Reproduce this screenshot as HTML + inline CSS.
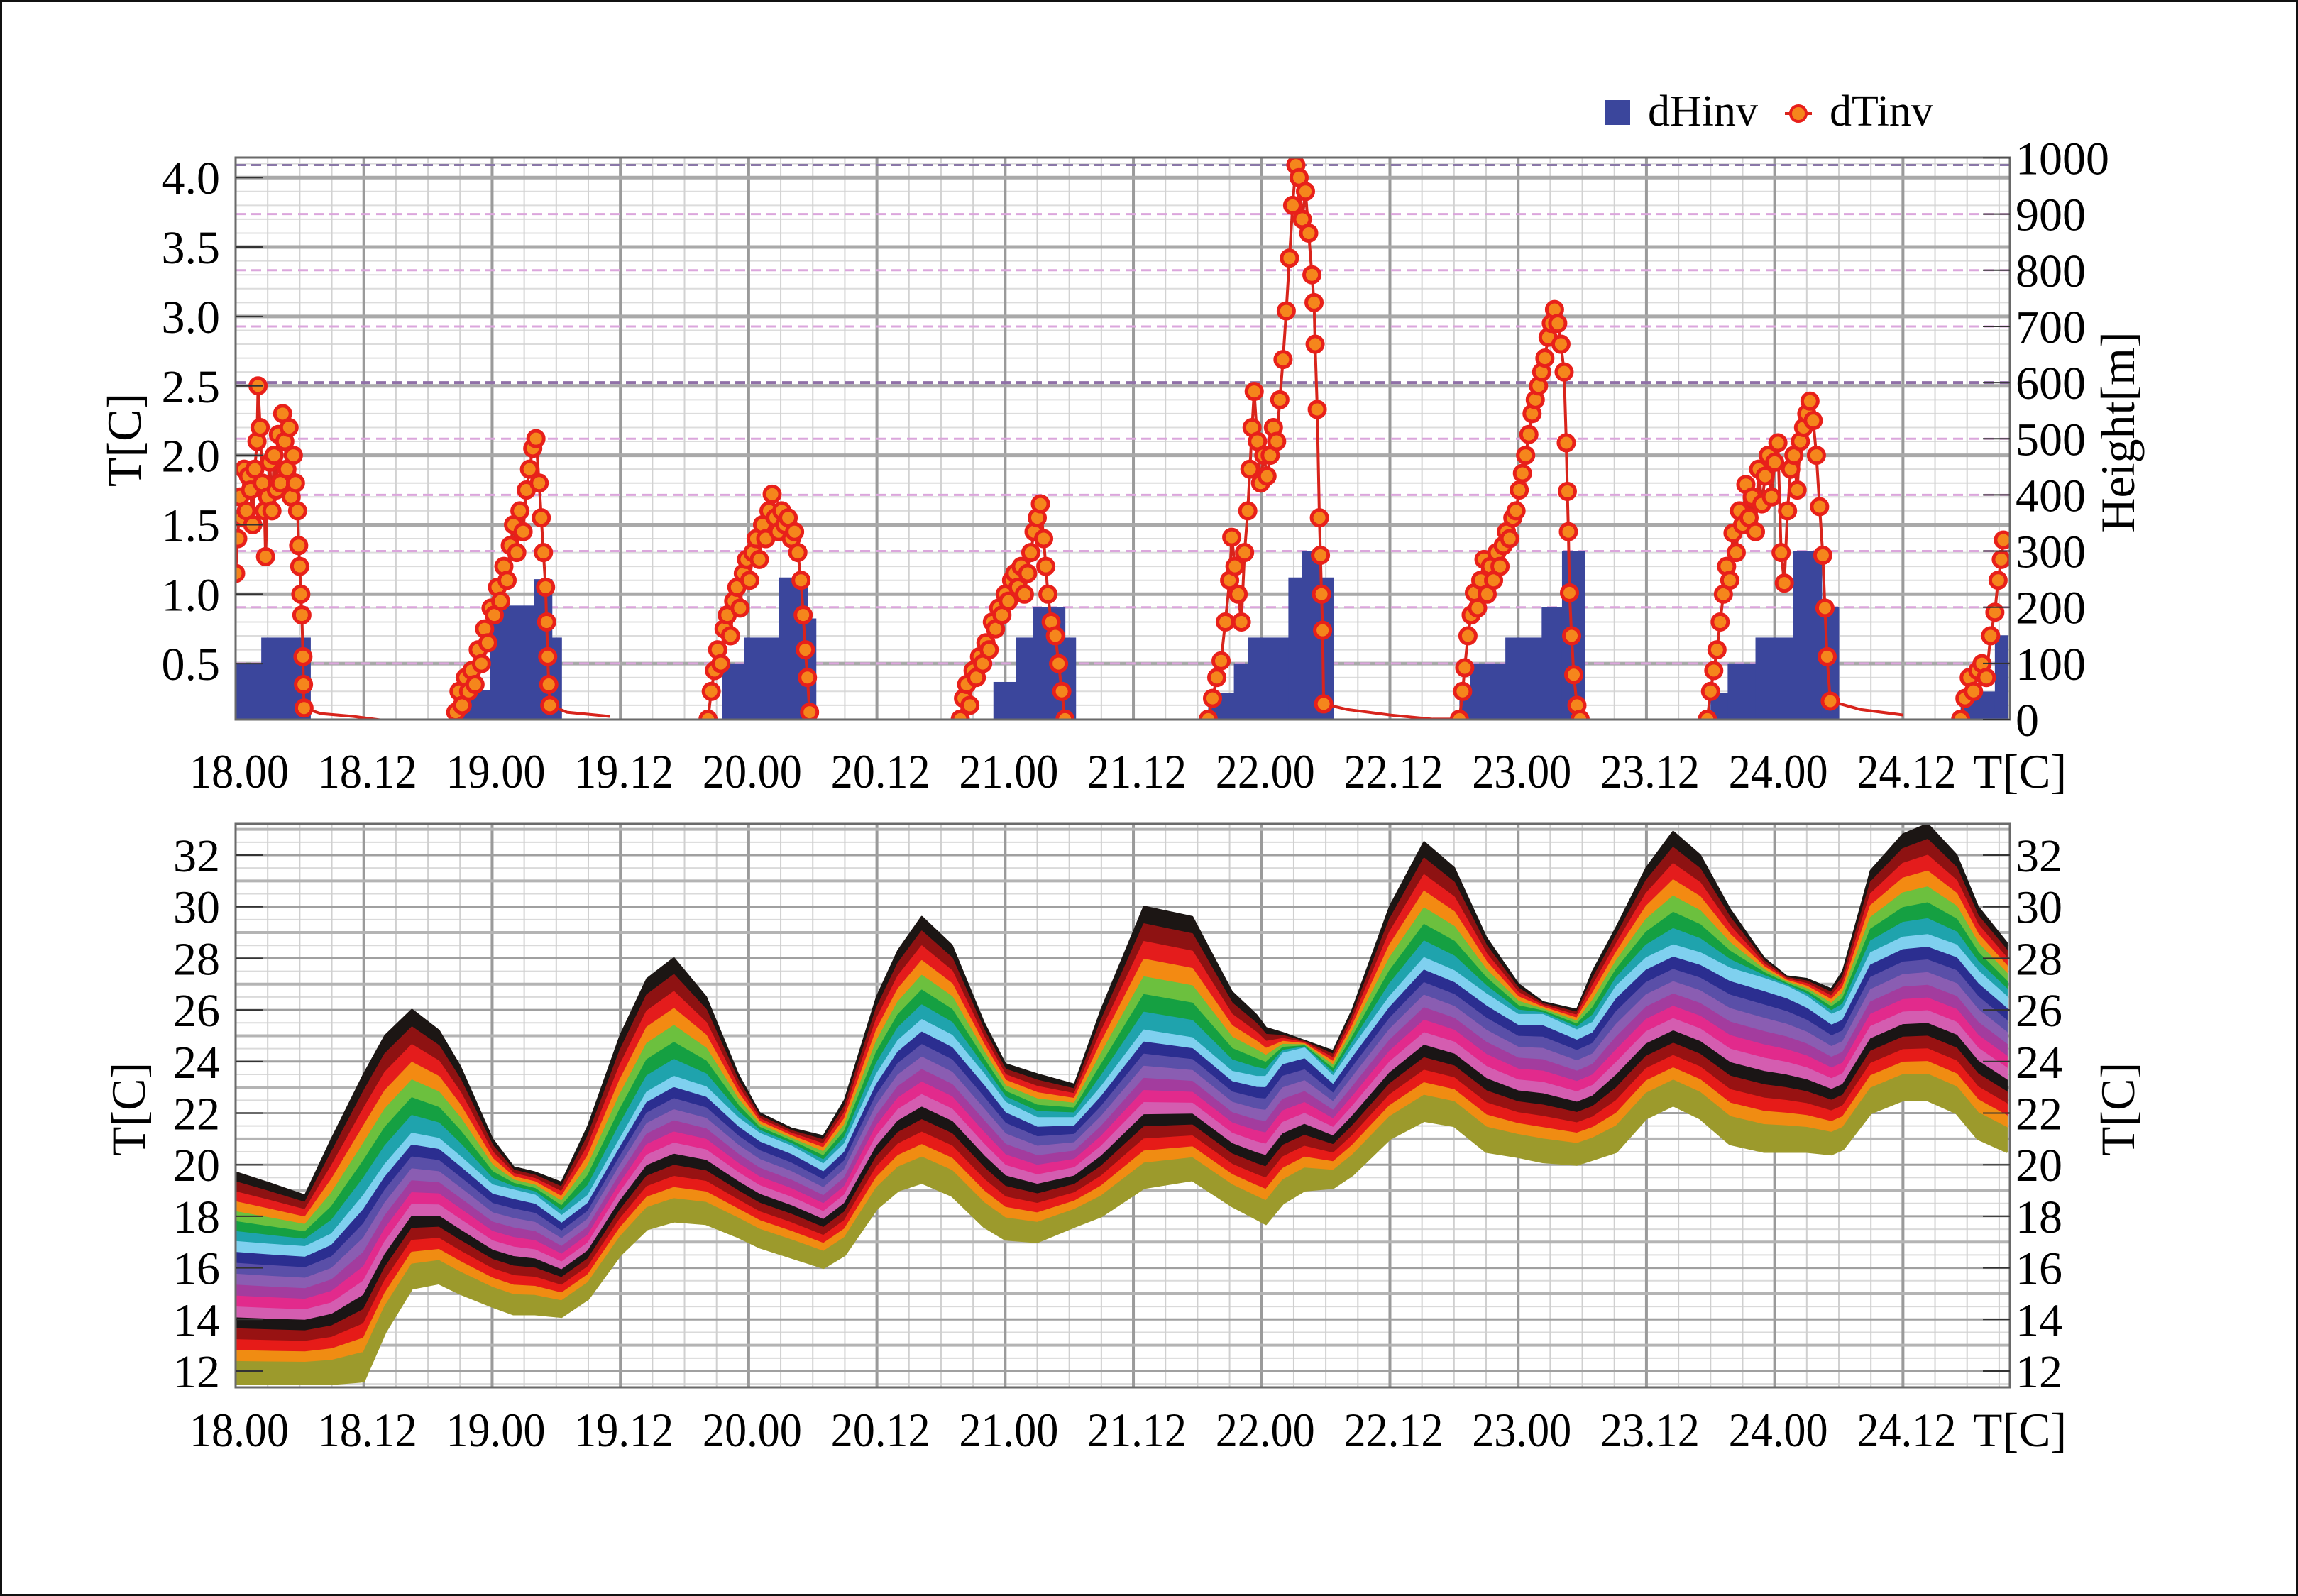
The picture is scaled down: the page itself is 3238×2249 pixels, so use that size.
<!DOCTYPE html>
<html><head><meta charset="utf-8"><title>Inversion and temperature chart</title>
<style>
html,body{margin:0;padding:0;background:#fff;}
svg{display:block;}
text{font-family:"Liberation Serif","DejaVu Serif",serif;fill:#000;}
</style></head>
<body>
<svg id="fig" xmlns="http://www.w3.org/2000/svg" width="3238" height="2249" viewBox="0 0 3238 2249">
<rect x="1.5" y="1.5" width="3235" height="2246" fill="#fff" stroke="#111" stroke-width="3"/>
</svg>
<script>
// ---------- top chart data ----------
const barStart  = [0,2.4, 20.5,23.8,27.9,29.6, 45.5,47.6,50.8,53.5, 70.9,73,74.6,77.6, 91,93.4,94.7,98.5,99.8,101.4, 114.5,115.5,118.8,122.2,124.1, 138,139.6,142.2,145.7,148.4, 161.4,164.6];
const barEnd    = [2.4,7, 23.8,27.9,29.6,30.5, 47.6,50.8,53.5,54.3, 73,74.6,77.6,78.6, 93.4,94.7,98.5,99.8,101.4,102.7, 115.5,118.8,122.2,124.1,126.2, 139.6,142.2,145.7,148.4,150, 164.6,165.8];
const barHeight = [100,146, 52,203,250,146, 100,146,253,180, 67,146,200,146, 47,100,146,253,300,253, 60,100,146,200,300, 47,100,146,300,200, 50,150];

const dtHours = [0,0.2,0.4,0.6,0.8,1.0,1.2,1.4,1.6,1.8,2.0,2.1,2.3,2.5,2.7,2.8,3.0,3.2,3.4,3.6,3.8,4.0,4.2,4.4,4.6,4.8,5.0,5.2,5.4,5.6,5.8,5.9,6.0,6.1,6.2,6.3,6.35,6.4,
20.6,20.9,21.2,21.5,21.8,22.1,22.4,22.7,23.0,23.3,23.6,23.9,24.2,24.5,24.8,25.1,25.4,25.7,26.0,26.3,26.6,26.9,27.2,27.5,27.8,28.1,28.4,28.6,28.8,29.0,29.1,29.2,29.3,29.4,
44.2,44.5,44.8,45.1,45.4,45.7,46.0,46.3,46.6,46.9,47.2,47.5,47.8,48.1,48.4,48.7,49.0,49.3,49.6,49.9,50.2,50.5,50.8,51.1,51.4,51.7,52.0,52.3,52.6,52.9,53.1,53.3,53.5,53.7,
67.8,68.1,68.4,68.7,69.0,69.3,69.6,69.9,70.2,70.5,70.8,71.1,71.4,71.7,72.0,72.3,72.6,72.9,73.2,73.5,73.8,74.1,74.4,74.7,75.0,75.3,75.6,75.8,76.0,76.3,76.7,77.0,77.3,77.6,
91.0,91.4,91.8,92.2,92.6,93.0,93.2,93.5,93.8,94.1,94.4,94.7,94.9,95.1,95.3,95.6,95.9,96.2,96.5,96.8,97.1,97.4,97.7,98.0,98.3,98.6,98.9,99.2,99.5,99.8,100.1,100.4,100.7,100.9,101.0,101.2,101.4,101.5,101.6,101.7,101.8,
114.5,114.8,115.0,115.3,115.6,115.9,116.2,116.5,116.8,117.1,117.4,117.7,118.0,118.3,118.6,118.9,119.2,119.5,119.8,120.1,120.4,120.7,121.0,121.3,121.6,121.9,122.2,122.5,122.8,123.1,123.4,123.7,124.0,124.3,124.5,124.6,124.7,124.8,125.0,125.2,125.5,125.8,
137.7,138.0,138.3,138.6,138.9,139.2,139.5,139.8,140.1,140.4,140.7,141.0,141.3,141.6,141.9,142.2,142.5,142.8,143.1,143.4,143.7,144.0,144.3,144.6,144.9,145.2,145.5,145.8,146.1,146.4,146.7,147.0,147.3,147.6,147.9,148.2,148.5,148.7,148.9,149.2,
161.4,161.8,162.2,162.6,163.0,163.4,163.8,164.2,164.6,164.9,165.2,165.4];
const dtValues = [1.15,1.4,1.7,1.55,1.9,1.6,1.85,1.75,1.5,1.9,2.1,2.5,2.2,1.8,1.6,1.27,1.7,1.95,1.6,2.0,1.75,2.15,1.8,2.3,2.1,1.9,2.2,1.7,2.0,1.8,1.6,1.35,1.2,1.0,0.85,0.55,0.35,0.18,
0.15,0.3,0.2,0.4,0.3,0.45,0.35,0.6,0.5,0.75,0.65,0.9,0.85,1.05,0.95,1.2,1.1,1.35,1.5,1.3,1.6,1.45,1.75,1.9,2.05,2.12,1.8,1.55,1.3,1.05,0.8,0.55,0.35,0.2,
0.1,0.3,0.45,0.6,0.5,0.75,0.85,0.7,0.95,1.05,0.9,1.15,1.25,1.1,1.3,1.4,1.25,1.5,1.4,1.6,1.72,1.55,1.45,1.6,1.5,1.55,1.4,1.45,1.3,1.1,0.85,0.6,0.4,0.15,
0.1,0.25,0.35,0.2,0.45,0.4,0.55,0.5,0.65,0.6,0.8,0.75,0.9,0.85,1.0,0.95,1.1,1.15,1.05,1.2,1.0,1.15,1.3,1.45,1.55,1.65,1.4,1.2,1.0,0.8,0.7,0.5,0.3,0.1,
0.1,0.25,0.4,0.52,0.8,1.1,1.41,1.2,1.0,0.8,1.3,1.6,1.9,2.2,2.46,2.1,1.8,2.0,1.85,2.0,2.2,2.1,2.4,2.69,3.04,3.42,3.8,4.09,4.0,3.7,3.9,3.6,3.3,3.1,2.8,2.33,1.55,1.28,1.0,0.74,0.21,
0.1,0.3,0.47,0.7,0.85,1.01,0.9,1.1,1.25,1.0,1.2,1.1,1.3,1.2,1.35,1.45,1.4,1.55,1.6,1.75,1.87,2.0,2.15,2.3,2.4,2.5,2.6,2.7,2.85,2.95,3.05,2.95,2.8,2.6,2.09,1.74,1.45,1.01,0.7,0.42,0.2,0.1,
0.1,0.3,0.45,0.6,0.8,1.0,1.2,1.1,1.44,1.3,1.6,1.5,1.79,1.55,1.7,1.45,1.9,1.65,1.85,2.0,1.7,1.95,2.09,1.3,1.08,1.6,1.9,2.0,1.75,2.1,2.2,2.3,2.39,2.25,2.0,1.63,1.28,0.9,0.55,0.23,
0.1,0.25,0.4,0.3,0.45,0.5,0.4,0.7,0.87,1.1,1.25,1.39];
const trailHours  = [6.4,8,11,13,15, 29.4,31,35,40, 61,67.8, 101.8,104,108,112,114.5, 149.2,152,156,160.6];
const trailValues = [0.18,0.14,0.12,0.1,0.08, 0.2,0.15,0.12,0.1, 0.1,0.1, 0.21,0.17,0.13,0.1,0.09, 0.23,0.17,0.13,0.1];
const topYTicks = [0.5,1.0,1.5,2.0,2.5,3.0,3.5,4.0];
const heightTicks = [0,100,200,300,400,500,600,700,800,900,1000];
const xTickLabels = ["18.00","18.12","19.00","19.12","20.00","20.12","21.00","21.12","22.00","22.12","23.00","23.12","24.00","24.12"];

// ---------- bottom chart data ----------
const bHours = [0,3,6.5,9,12,14,16.5,19,21,24,26,28,30.5,33,36,38.5,41,44,47,49,52,55,57,60,62,64.2,67,70,72,75,78.5,81,85,89.5,93.2,95.5,96.4,98,100,102.7,104.5,108,111.2,114,117,120,122.3,125.5,127,129.2,132,134.5,137,139.8,143,145.1,147,149.3,150.4,153,156,158.3,161,163,165.7];
const bTop = [19.7,19.3,18.8,21.0,23.5,25.0,26.0,25.2,23.8,21.0,19.9,19.7,19.3,21.5,25.0,27.2,28.0,26.5,23.5,22.0,21.4,21.1,22.5,26.5,28.3,29.6,28.5,25.5,23.9,23.5,23.1,26.0,30.0,29.6,26.7,25.8,25.3,25.1,24.8,24.4,26.0,30.0,32.5,31.5,28.8,27.0,26.3,26.0,27.5,29.2,31.5,32.9,32.0,29.9,28.0,27.3,27.2,26.8,27.5,31.4,32.8,33.2,32.0,30.0,28.6];
const bMid = [17.0,16.9,16.8,17.3,18.8,20.0,21.2,21.0,20.3,19.2,19.0,18.8,18.0,18.8,21.0,22.8,23.4,23.0,21.8,21.2,20.7,20.0,20.8,23.5,24.8,25.6,25.0,23.5,22.4,21.8,21.8,23.0,25.2,24.9,23.6,23.4,23.4,24.3,24.5,23.4,24.5,26.5,28.0,27.5,26.6,25.8,25.8,25.2,25.5,26.9,28.0,28.5,28.2,27.6,27.2,26.9,26.5,25.8,26.0,28.2,28.8,28.9,28.5,27.5,26.5];
const bBot = [11.5,11.5,11.5,11.5,11.6,13.5,15.2,15.4,15.0,14.5,14.2,14.2,14.1,14.8,16.5,17.5,17.8,17.7,17.2,16.8,16.4,16.0,16.5,18.3,19.0,19.3,18.8,17.6,17.1,17.0,17.6,18.0,19.1,19.4,18.4,17.9,17.7,18.5,19.0,19.1,19.6,21.0,21.7,21.5,20.5,20.3,20.1,20.0,20.2,20.5,21.8,22.3,21.8,20.8,20.5,20.5,20.5,20.4,20.6,22.0,22.5,22.5,22.0,21.0,20.5];
const bTicks = [12,14,16,18,20,22,24,26,28,30,32];
const upperColors = ["#1c1614","#8e1212","#e41c1c","#f38a12","#6cc03e","#15a042","#1fa3ad"];
const lowerColors = ["#7fd0ef","#2b2e90","#5a4fa8","#8a5db2","#a33c9e","#e22a8c","#d45db0","#1a1515","#981212","#e61b18","#f08c12","#9c9a2c"];
const lowerWeights = [1,1,1,1,1,1,1,1,1,1,1,2];

// ---------- geometry ----------
const NS = "http://www.w3.org/2000/svg";
const svgRoot = document.getElementById("fig");
const PL = 332, PR = 2832;
const T1 = 222, B1 = 1014;
const T2 = 1161, B2 = 1955;
const xh = h => PL + h * 15.06;
const yT = t => 1033 - t * 195.7;
const yH = m => 1014 - m * 0.7915;
const yB = t => 1205 + (32 - t) * 36.35;

function mk(tag, attrs, parent) {
  const el = document.createElementNS(NS, tag);
  for (const k in attrs) el.setAttribute(k, attrs[k]);
  (parent || svgRoot).appendChild(el);
  return el;
}
function txt(parent, s, attrs) {
  const el = mk("text", attrs, parent);
  el.textContent = s;
  return el;
}

const defs = mk("defs", {});
const cp1 = mk("clipPath", {id: "clipTop"}, defs);
mk("rect", {x: PL, y: T1, width: PR - PL, height: B1 - T1}, cp1);
const cp2 = mk("clipPath", {id: "clipBot"}, defs);
mk("rect", {x: PL, y: T2, width: PR - PL, height: B2 - T2}, cp2);

// ================= TOP CHART =================
const topChart = mk("g", {});



const g1 = mk("g", {"clip-path": "url(#clipTop)"}, topChart);


for (let t = 0.1; t <= 4.2; t += 0.1) {
  mk("line", {x1: PL, x2: PR, y1: yT(t), y2: yT(t), stroke: "#dcdcdc", "stroke-width": 2}, g1);
}
for (let h = 3; h < 170; h += 3) {
  const major = (h % 12 === 0);
  mk("line", {x1: xh(h), x2: xh(h), y1: T1, y2: B1, stroke: major ? "#9a9a9a" : "#d2d2d2", "stroke-width": major ? 4 : 2}, g1);
}
for (const t of topYTicks) {
  mk("line", {x1: PL, x2: PR, y1: yT(t), y2: yT(t), stroke: "#a9a9a9", "stroke-width": 5}, g1);
}
for (let m = 100; m <= 1000; m += 100) {
  const c = m === 600 ? "#9070a8" : (m === 1000 ? "#8a78a8" : "#dba6dc");
  const off = m === 1000 ? 10 : 0;
  mk("line", {x1: PL, x2: PR, y1: yH(m) + off, y2: yH(m) + off, stroke: c, "stroke-width": m === 600 ? 4 : 3, "stroke-dasharray": "14 8"}, g1);
}

const gBars = mk("g", {"clip-path": "url(#clipTop)"}, topChart);


for (let i = 0; i < barStart.length; i++) {
  const r = mk("rect", {x: xh(barStart[i]), y: yH(barHeight[i]), width: xh(barEnd[i]) - xh(barStart[i]) + 0.5, height: yH(0) - yH(barHeight[i]), fill: "#3b469c"}, gBars);
  
  
}

const gDt = mk("g", {"clip-path": "url(#clipTop)"}, topChart);


const allPts = [];
for (let i = 0; i < dtHours.length; i++) allPts.push([dtHours[i], dtValues[i]]);
for (let i = 0; i < trailHours.length; i++) allPts.push([trailHours[i], trailValues[i]]);
allPts.sort((a, b) => a[0] - b[0]);
const segs = [];
let cur = [];
for (let i = 0; i < allPts.length; i++) {
  if (cur.length && allPts[i][0] - cur[cur.length - 1][0] > 4) { segs.push(cur); cur = []; }
  cur.push(allPts[i]);
}
segs.push(cur);
for (const s of segs) {
  const pl = mk("polyline", {points: s.map(p => xh(p[0]) + "," + yT(p[1])).join(" "), fill: "none", stroke: "#d8241c", "stroke-width": 4}, gDt);
  
  
}
for (let i = 0; i < dtHours.length; i++) {
  const c = mk("circle", {cx: xh(dtHours[i]), cy: yT(dtValues[i]), r: 11, fill: "#f5861c", stroke: "#e8201a", "stroke-width": 5}, gDt);
  
  
}

const frame1 = mk("rect", {x: PL, y: T1, width: PR - PL, height: B1 - T1, fill: "none", stroke: "#6a6a6a", "stroke-width": 3}, topChart);



const ya1 = mk("g", {}, topChart);


for (const t of topYTicks) {
  mk("line", {x1: PL, x2: PL + 38, y1: yT(t), y2: yT(t), stroke: "#333", "stroke-width": 2}, ya1);
  const l = txt(ya1, t.toFixed(1), {x: 310, y: yT(t) + 23, "font-size": 66, "text-anchor": "end"});
  
  
}
const yt1 = txt(topChart, "T[C]", {x: 0, y: 0, "font-size": 68, "text-anchor": "middle", transform: "translate(198,620) rotate(-90)"});



const ya1r = mk("g", {}, topChart);


for (const m of heightTicks) {
  mk("line", {x1: PR - 38, x2: PR, y1: yH(m), y2: yH(m), stroke: "#333", "stroke-width": 2}, ya1r);
  const l = txt(ya1r, String(m), {x: 2840, y: yH(m) + 23, "font-size": 66});
  
  
}
const yt1r = txt(topChart, "Height[m]", {x: 0, y: 0, "font-size": 68, "text-anchor": "middle", transform: "translate(3007,609) rotate(-90)"});



const xa1 = mk("g", {}, topChart);


xTickLabels.forEach((s, i) => {
  const l = txt(xa1, s, {x: xh(i * 12) + 5, y: 1110, "font-size": 68, "text-anchor": "middle", textLength: 140, lengthAdjust: "spacingAndGlyphs"});
  
  
});
const xt1 = txt(topChart, "T[C]", {x: 2846, y: 1110, "font-size": 68, "text-anchor": "middle"});



const leg = mk("g", {}, topChart);


const le1 = mk("g", {}, leg);


mk("rect", {x: 2262, y: 141, width: 35, height: 35, fill: "#3b469c"}, le1);
txt(le1, "dHinv", {x: 2322, y: 177, "font-size": 62});
const le2 = mk("g", {}, leg);


mk("line", {x1: 2515, x2: 2553, y1: 160, y2: 160, stroke: "#d8241c", "stroke-width": 4}, le2);
mk("circle", {cx: 2534, cy: 160, r: 11, fill: "#f5861c", stroke: "#e8201a", "stroke-width": 4}, le2);
txt(le2, "dTinv", {x: 2578, y: 177, "font-size": 62});

// ================= BOTTOM CHART =================
const botChart = mk("g", {});



const g2 = mk("g", {"clip-path": "url(#clipBot)"}, botChart);


for (let t = 11.5; t <= 33.5; t += 0.5) {
  mk("line", {x1: PL, x2: PR, y1: yB(t), y2: yB(t), stroke: "#dadada", "stroke-width": 2}, g2);
}
for (let h = 3; h < 170; h += 3) {
  const major = (h % 12 === 0);
  mk("line", {x1: xh(h), x2: xh(h), y1: T2, y2: B2, stroke: major ? "#9a9a9a" : "#d0d0d0", "stroke-width": major ? 4 : 2}, g2);
}
for (let t = 13; t <= 33; t += 2) {
  mk("line", {x1: PL, x2: PR, y1: yB(t), y2: yB(t), stroke: "#b4b4b4", "stroke-width": 4}, g2);
}
for (const t of bTicks) {
  mk("line", {x1: PL, x2: PR, y1: yB(t), y2: yB(t), stroke: "#a0a0a0", "stroke-width": 3}, g2);
}

function lerpLine(a, b, f) { return a.map((v, i) => v + (b[i] - v) * f); }
const lineList = [];
for (let k = 0; k <= upperColors.length; k++) lineList.push(lerpLine(bTop, bMid, k / upperColors.length));
const wSum = lowerWeights.reduce((s, w) => s + w, 0);
let acc = 0;
for (let k = 0; k < lowerColors.length; k++) {
  acc += lowerWeights[k];
  lineList.push(lerpLine(bMid, bBot, acc / wSum));
}
const bandColors = upperColors.concat(lowerColors);
const gBands = mk("g", {"clip-path": "url(#clipBot)"}, botChart);


for (let k = 0; k < bandColors.length; k++) {
  const upper = lineList[k], lower = lineList[k + 1];
  const pts = [];
  for (let i = 0; i < bHours.length; i++) pts.push(xh(bHours[i]) + "," + yB(upper[i]));
  for (let i = bHours.length - 1; i >= 0; i--) pts.push(xh(bHours[i]) + "," + yB(lower[i]));
  const p = mk("polygon", {points: pts.join(" "), fill: bandColors[k], stroke: bandColors[k], "stroke-width": 3, "stroke-linejoin": "round"}, gBands);
  
  
}

const frame2 = mk("rect", {x: PL, y: T2, width: PR - PL, height: B2 - T2, fill: "none", stroke: "#6a6a6a", "stroke-width": 3}, botChart);



const ya2 = mk("g", {}, botChart);


const ya2r = mk("g", {}, botChart);


for (const t of bTicks) {
  mk("line", {x1: PL, x2: PL + 38, y1: yB(t), y2: yB(t), stroke: "#333", "stroke-width": 2}, ya2);
  const l = txt(ya2, String(t), {x: 310, y: yB(t) + 23, "font-size": 66, "text-anchor": "end"});
  
  
  mk("line", {x1: PR - 38, x2: PR, y1: yB(t), y2: yB(t), stroke: "#333", "stroke-width": 2}, ya2r);
  const r = txt(ya2r, String(t), {x: 2840, y: yB(t) + 23, "font-size": 66});
  
  
}
const yt2 = txt(botChart, "T[C]", {x: 0, y: 0, "font-size": 68, "text-anchor": "middle", transform: "translate(204,1563) rotate(-90)"});


const yt2r = txt(botChart, "T[C]", {x: 0, y: 0, "font-size": 68, "text-anchor": "middle", transform: "translate(3007,1563) rotate(-90)"});



const xa2 = mk("g", {}, botChart);


xTickLabels.forEach((s, i) => {
  const l = txt(xa2, s, {x: xh(i * 12) + 5, y: 2038, "font-size": 68, "text-anchor": "middle", textLength: 140, lengthAdjust: "spacingAndGlyphs"});
  
  
});
const xt2 = txt(botChart, "T[C]", {x: 2846, y: 2038, "font-size": 68, "text-anchor": "middle"});


</script>
</body></html>
